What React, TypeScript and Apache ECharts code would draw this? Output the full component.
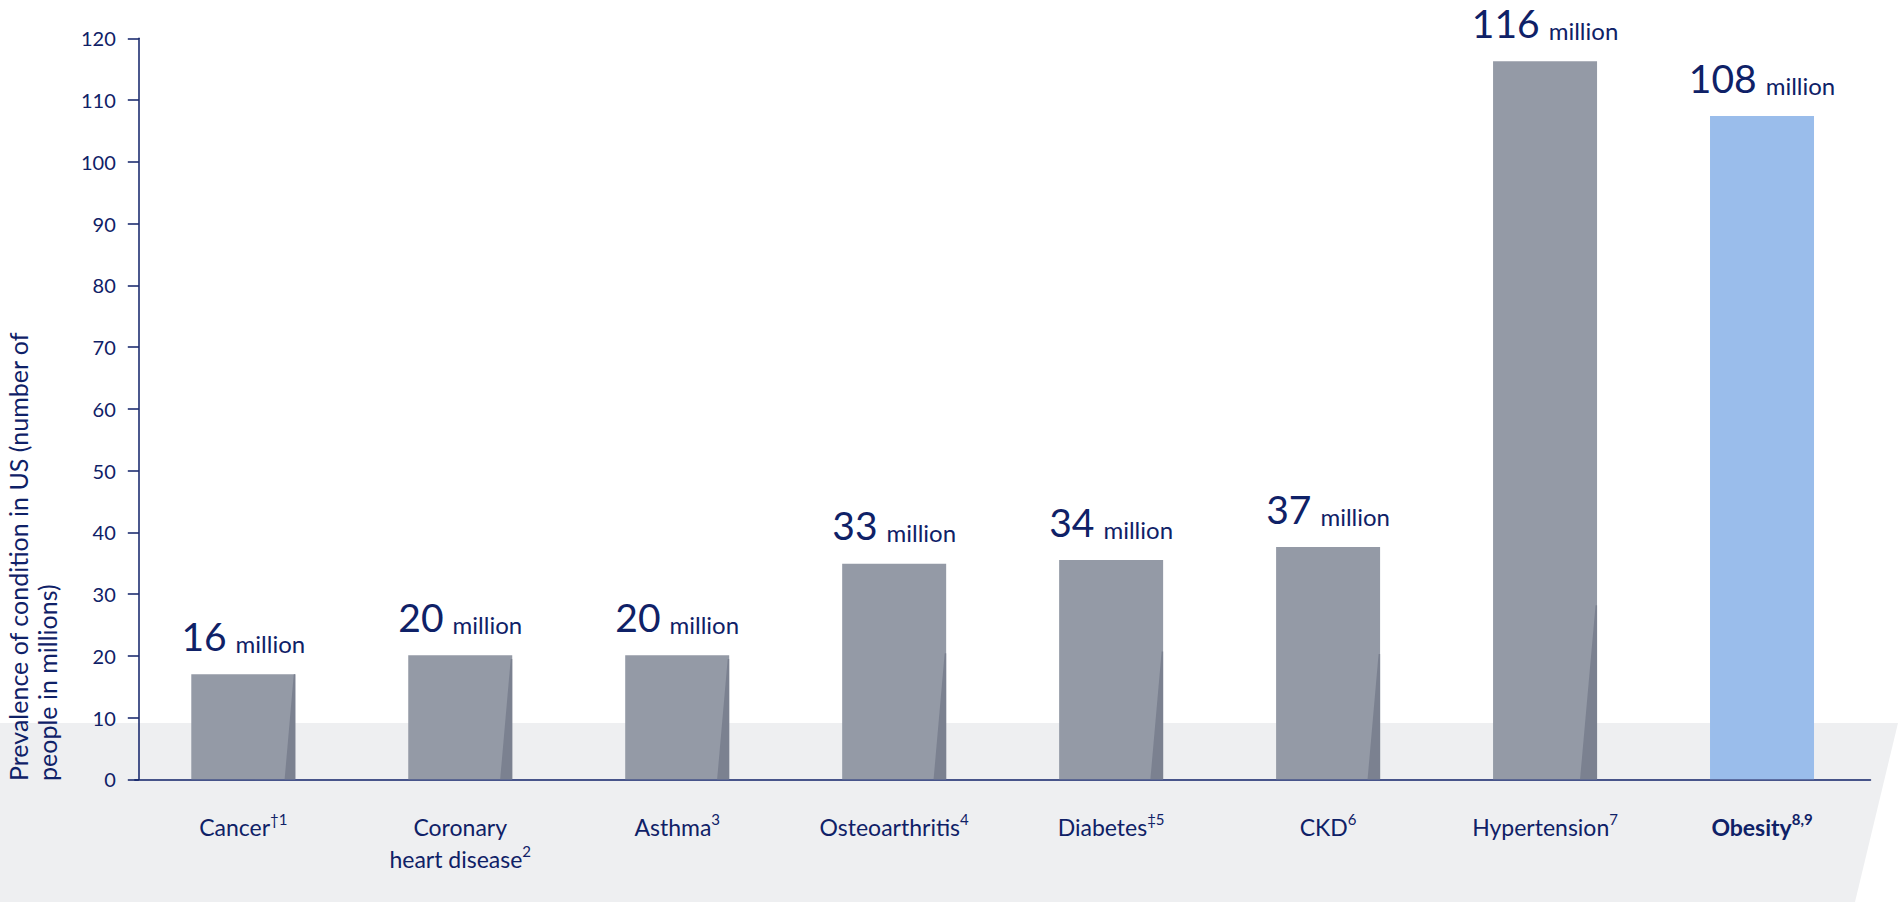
import React, { useEffect, useRef } from 'react';
import * as echarts from 'echarts';

const categories = ['Cancer', 'Coronary\nheart disease', 'Asthma', 'Osteoarthritis', 'Diabetes', 'CKD', 'Hypertension', 'Obesity'];
const superscripts = ['†1', '2', '3', '4', '‡5', '6', '7', '8,9'];
const barValues = [17.0, 20.1, 20.1, 34.9, 35.5, 37.6, 116.3, 107.4];
const labelValues = ['16', '20', '20', '33', '34', '37', '116', '108'];
const labelUnit = 'million';
const shadeTops: (number | null)[] = [17.0, 19.5, 19.5, 20.4, 20.7, 20.3, 28.2, null];
const highlightIndex = 7;
const yMin = 0;
const yMax = 120;
const yInterval = 10;
const yAxisTitle = 'Prevalence of condition in US (number of\npeople in millions)';

const NAVY = '#0f2167';
const BAR_GRAY = '#949aa6';
const SHADE_GRAY = '#7b8190';
const BAR_BLUE = '#9abdeb';
const BAND = '#eeeff1';
const FONT = 'Lato, "Noto Sans", sans-serif';
const BAR_WIDTH = 104;

export default function App() {
  const ref = useRef<HTMLDivElement>(null);

  useEffect(() => {
    if (!ref.current) return;
    const chart = echarts.init(ref.current, undefined, { renderer: 'svg' });

    const shadeData = shadeTops
      .map((v, i) => (v == null ? null : [i, v]))
      .filter((d) => d != null);

    const option: any = {
      animation: false,
      textStyle: { fontFamily: FONT },
      grid: { left: 134.8, right: 27.5, top: 38.3, bottom: 124.7, containLabel: false },
      graphic: [
        {
          type: 'polygon',
          z: -100,
          shape: { points: [[0, 723], [1898, 723], [1855, 902], [0, 902]] },
          style: { fill: BAND },
          silent: true,
        },
        {
          type: 'text',
          z: 100,
          x: 3,
          y: 781,
          rotation: Math.PI / 2,
          style: {
            text: yAxisTitle,
            fill: NAVY,
            fontSize: 25,
            fontFamily: FONT,
            lineHeight: 29,
            align: 'left',
            verticalAlign: 'top',
            textAlign: 'left',
            textVerticalAlign: 'top',
          },
        },
      ],
      xAxis: {
        type: 'category',
        data: categories,
        axisLine: { show: true, lineStyle: { color: NAVY, width: 1.5 } },
        axisTick: { show: false },
        axisLabel: {
          margin: 32,
          interval: 0,
          color: NAVY,
          formatter: (value: string, index: number) => {
            const bold = index === highlightIndex;
            const n = bold ? 'nb' : 'n';
            const s = bold ? 'sb' : 's';
            const lines = value.split('\n');
            return lines
              .map((l, i) => `{${n}|${l}}` + (i === lines.length - 1 ? `{${s}|${superscripts[index]}}` : ''))
              .join('\n');
          },
          rich: {
            n: { fontSize: 23, lineHeight: 32, color: NAVY, fontFamily: FONT },
            nb: { fontSize: 23, lineHeight: 32, color: NAVY, fontFamily: FONT, fontWeight: 'bold' },
            s: { fontSize: 15, lineHeight: 20, color: NAVY, fontFamily: FONT, verticalAlign: 'top' },
            sb: { fontSize: 15, lineHeight: 20, color: NAVY, fontFamily: FONT, fontWeight: 'bold', verticalAlign: 'top' },
          },
        },
        splitLine: { show: false },
      },
      yAxis: {
        type: 'value',
        min: yMin,
        max: yMax,
        interval: yInterval,
        offset: -4,
        axisLine: { show: true, lineStyle: { color: NAVY, width: 1.5 } },
        axisTick: { show: true, length: 11, lineStyle: { color: NAVY, width: 1.5 } },
        axisLabel: { color: NAVY, fontSize: 20, margin: 23, fontFamily: FONT },
        splitLine: { show: false },
      },
      series: [
        {
          type: 'bar',
          data: barValues.map((v, i) => ({
            value: v,
            itemStyle: { color: i === highlightIndex ? BAR_BLUE : BAR_GRAY },
          })),
          barWidth: BAR_WIDTH,
          z: 2,
          label: {
            show: true,
            position: 'top',
            distance: 19,
            formatter: (p: any) => `{a|${labelValues[p.dataIndex]}}{b|${labelUnit}}`,
            rich: {
              a: { fontSize: 39, lineHeight: 43, color: NAVY, fontFamily: FONT, verticalAlign: 'bottom' },
              b: { fontSize: 24, lineHeight: 32.5, color: NAVY, fontFamily: FONT, verticalAlign: 'bottom', padding: [0, 0, 0, 9] },
            },
          },
        },
        {
          type: 'custom',
          z: 3,
          silent: true,
          data: shadeData,
          encode: { x: 0, y: 1 },
          renderItem: (params: any, api: any) => {
            const idx = api.value(0);
            const top = api.value(1);
            const base = api.coord([idx, 0]);
            const tp = api.coord([idx, top]);
            const right = base[0] + BAR_WIDTH / 2;
            const bottomW = (base[1] - tp[1]) * 0.092 + 1;
            return {
              type: 'polygon',
              shape: {
                points: [
                  [right - 1.5, tp[1]],
                  [right, tp[1]],
                  [right, base[1]],
                  [right - bottomW, base[1]],
                ],
              },
              style: { fill: SHADE_GRAY },
            };
          },
        },
      ],
    };

    chart.setOption(option);
    return () => chart.dispose();
  }, []);

  return (
    <div
      ref={ref}
      style={{ position: 'absolute', left: 0, top: 0, width: 1898, height: 904 }}
    />
  );
}
